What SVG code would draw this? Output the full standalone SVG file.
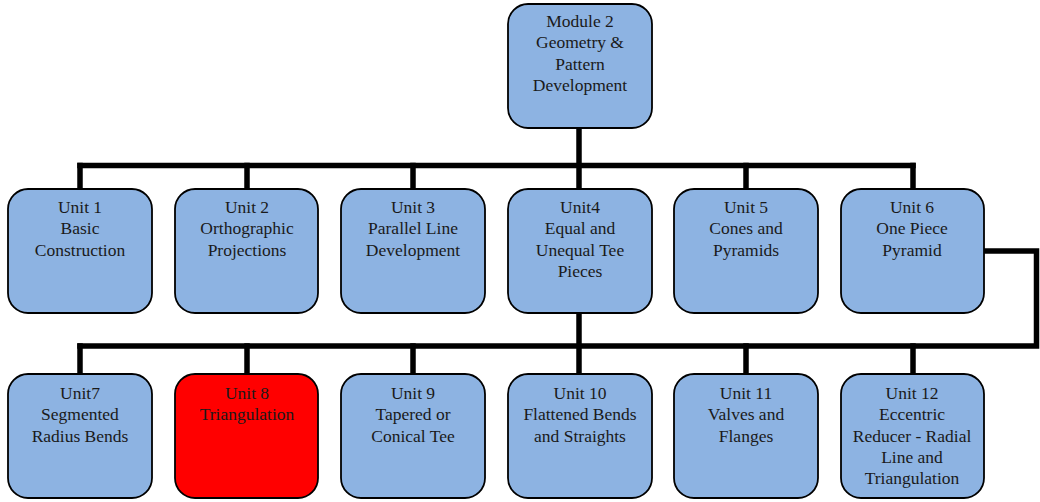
<svg xmlns="http://www.w3.org/2000/svg" width="1040" height="502" viewBox="0 0 1040 502">
<style>
.box{fill:#8DB3E2;stroke:#000;stroke-width:1.8}
.hot{fill:#FF0000;stroke:#000;stroke-width:1.8}
.t{font-family:'Liberation Serif','DejaVu Serif',serif;font-size:17.5px;fill:#1a1a1a;text-anchor:middle}
.c{fill:none;stroke:#000;stroke-width:5.5;stroke-linejoin:miter;stroke-linecap:square}
</style>
<rect width="1040" height="502" fill="#fff"/>
<g id="connectors">
<path class="c" d="M579 130 V187"/>
<path class="c" d="M80 165.5 H913"/>
<path class="c" d="M80 165.5 V187 M247 165.5 V187 M413 165.5 V187 M746 165.5 V187 M913 165.5 V187"/>
<path class="c" d="M579 315 V372"/>
<path class="c" d="M985 251 H1036.5 V346 H80"/>
<path class="c" d="M80 346 V372 M247 346 V372 M413 346 V372 M746 346 V372 M913 346 V372"/>
</g>
<g id="module2">
<rect class="box" x="508" y="4" width="144" height="124" rx="20"/>
<text class="t" x="580" y="27">Module 2</text>
<text class="t" x="580" y="48.3">Geometry &amp;</text>
<text class="t" x="580" y="69.6">Pattern</text>
<text class="t" x="580" y="91">Development</text>
</g>
<g id="unit1">
<rect class="box" x="8" y="189" width="144" height="124" rx="20"/>
<text class="t" x="80" y="213">Unit 1</text>
<text class="t" x="80" y="234.3">Basic</text>
<text class="t" x="80" y="255.6">Construction</text>
</g>
<g id="unit2">
<rect class="box" x="175" y="189" width="143" height="124" rx="20"/>
<text class="t" x="247" y="213">Unit 2</text>
<text class="t" x="247" y="234.3">Orthographic</text>
<text class="t" x="247" y="255.6">Projections</text>
</g>
<g id="unit3">
<rect class="box" x="341" y="189" width="144" height="124" rx="20"/>
<text class="t" x="413" y="213">Unit 3</text>
<text class="t" x="413" y="234.3">Parallel Line</text>
<text class="t" x="413" y="255.6">Development</text>
</g>
<g id="unit4">
<rect class="box" x="508" y="189" width="144" height="124" rx="20"/>
<text class="t" x="580" y="213">Unit4</text>
<text class="t" x="580" y="234.3">Equal and</text>
<text class="t" x="580" y="255.6">Unequal Tee</text>
<text class="t" x="580" y="277">Pieces</text>
</g>
<g id="unit5">
<rect class="box" x="674" y="189" width="144" height="124" rx="20"/>
<text class="t" x="746" y="213">Unit 5</text>
<text class="t" x="746" y="234.3">Cones and</text>
<text class="t" x="746" y="255.6">Pyramids</text>
</g>
<g id="unit6">
<rect class="box" x="841" y="189" width="143" height="124" rx="20"/>
<text class="t" x="912" y="213">Unit 6</text>
<text class="t" x="912" y="234.3">One Piece</text>
<text class="t" x="912" y="255.6">Pyramid</text>
</g>
<g id="unit7">
<rect class="box" x="8" y="374" width="144" height="124" rx="20"/>
<text class="t" x="80" y="399">Unit7</text>
<text class="t" x="80" y="420.3">Segmented</text>
<text class="t" x="80" y="441.6">Radius Bends</text>
</g>
<g id="unit8">
<rect class="hot" x="175" y="374" width="143" height="124" rx="20"/>
<text class="t" x="247" y="399">Unit 8</text>
<text class="t" x="247" y="420.3">Triangulation</text>
</g>
<g id="unit9">
<rect class="box" x="341" y="374" width="144" height="124" rx="20"/>
<text class="t" x="413" y="399">Unit 9</text>
<text class="t" x="413" y="420.3">Tapered or</text>
<text class="t" x="413" y="441.6">Conical Tee</text>
</g>
<g id="unit10">
<rect class="box" x="508" y="374" width="144" height="124" rx="20"/>
<text class="t" x="580" y="399">Unit 10</text>
<text class="t" x="580" y="420.3">Flattened Bends</text>
<text class="t" x="580" y="441.6">and Straights</text>
</g>
<g id="unit11">
<rect class="box" x="674" y="374" width="144" height="124" rx="20"/>
<text class="t" x="746" y="399">Unit 11</text>
<text class="t" x="746" y="420.3">Valves and</text>
<text class="t" x="746" y="441.6">Flanges</text>
</g>
<g id="unit12">
<rect class="box" x="841" y="374" width="143" height="124" rx="20"/>
<text class="t" x="912" y="399">Unit 12</text>
<text class="t" x="912" y="420.3">Eccentric</text>
<text class="t" x="912" y="441.6">Reducer - Radial</text>
<text class="t" x="912" y="463">Line and</text>
<text class="t" x="912" y="484.3">Triangulation</text>
</g>
</svg>
